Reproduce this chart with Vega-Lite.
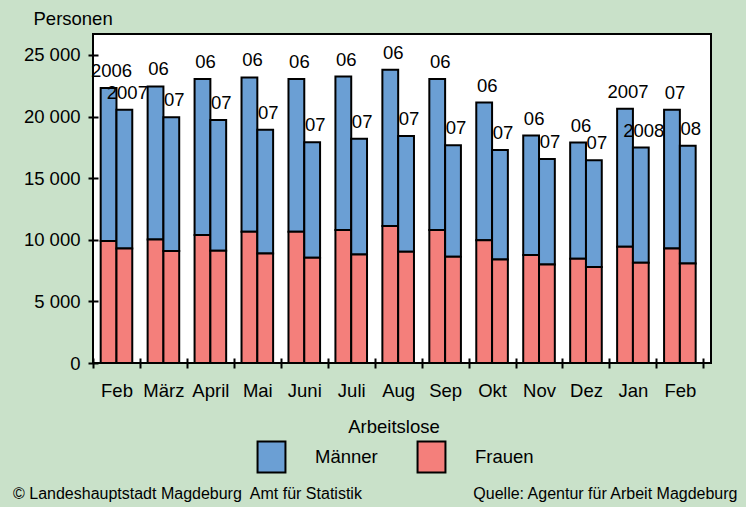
{
  "$schema": "https://vega.github.io/schema/vega-lite/v6.json",
  "width": 618,
  "height": 329,
  "autosize": {"type": "none"},
  "padding": {"left": 93, "top": 34, "right": 35, "bottom": 144},
  "background": "#c9e1c9",
  "config": {
    "view": {"fill": "white", "stroke": "black", "strokeWidth": 2},
    "font": "Liberation Sans",
    "axis": {"labelColor": "black", "titleColor": "black", "tickColor": "black"},
    "legend": {"labelColor": "black", "titleColor": "black"}
  },
  "title": {
    "text": "© Landeshauptstadt Magdeburg\u00a0 Amt für Statistik",
    "orient": "bottom",
    "anchor": "start",
    "frame": "group",
    "fontSize": 16,
    "fontWeight": "normal",
    "color": "black",
    "dx": -80,
    "dy": -15,
    "offset": 0
  },
  "data": {
    "values": [
      {"monat": "Feb 2006", "balken": 1, "g": "Männer", "wert": 12410, "label": "2006"},
      {"monat": "Feb 2006", "balken": 1, "g": "Frauen", "wert": 9900, "label": "2006"},
      {"monat": "Feb 2006", "balken": 2, "g": "Männer", "wert": 11250, "label": "2007"},
      {"monat": "Feb 2006", "balken": 2, "g": "Frauen", "wert": 9300, "label": "2007"},
      {"monat": "März 2006", "balken": 1, "g": "Männer", "wert": 12410, "label": "06"},
      {"monat": "März 2006", "balken": 1, "g": "Frauen", "wert": 10030, "label": "06"},
      {"monat": "März 2006", "balken": 2, "g": "Männer", "wert": 10870, "label": "07"},
      {"monat": "März 2006", "balken": 2, "g": "Frauen", "wert": 9080, "label": "07"},
      {"monat": "April 2006", "balken": 1, "g": "Männer", "wert": 12660, "label": "06"},
      {"monat": "April 2006", "balken": 1, "g": "Frauen", "wert": 10380, "label": "06"},
      {"monat": "April 2006", "balken": 2, "g": "Männer", "wert": 10630, "label": "07"},
      {"monat": "April 2006", "balken": 2, "g": "Frauen", "wert": 9100, "label": "07"},
      {"monat": "Mai 2006", "balken": 1, "g": "Männer", "wert": 12520, "label": "06"},
      {"monat": "Mai 2006", "balken": 1, "g": "Frauen", "wert": 10650, "label": "06"},
      {"monat": "Mai 2006", "balken": 2, "g": "Männer", "wert": 10030, "label": "07"},
      {"monat": "Mai 2006", "balken": 2, "g": "Frauen", "wert": 8890, "label": "07"},
      {"monat": "Juni 2006", "balken": 1, "g": "Männer", "wert": 12390, "label": "06"},
      {"monat": "Juni 2006", "balken": 1, "g": "Frauen", "wert": 10650, "label": "06"},
      {"monat": "Juni 2006", "balken": 2, "g": "Männer", "wert": 9380, "label": "07"},
      {"monat": "Juni 2006", "balken": 2, "g": "Frauen", "wert": 8540, "label": "07"},
      {"monat": "Juli 2006", "balken": 1, "g": "Männer", "wert": 12460, "label": "06"},
      {"monat": "Juli 2006", "balken": 1, "g": "Frauen", "wert": 10790, "label": "06"},
      {"monat": "Juli 2006", "balken": 2, "g": "Männer", "wert": 9380, "label": "07"},
      {"monat": "Juli 2006", "balken": 2, "g": "Frauen", "wert": 8810, "label": "07"},
      {"monat": "Aug 2006", "balken": 1, "g": "Männer", "wert": 12690, "label": "06"},
      {"monat": "Aug 2006", "balken": 1, "g": "Frauen", "wert": 11110, "label": "06"},
      {"monat": "Aug 2006", "balken": 2, "g": "Männer", "wert": 9400, "label": "07"},
      {"monat": "Aug 2006", "balken": 2, "g": "Frauen", "wert": 9030, "label": "07"},
      {"monat": "Sep 2006", "balken": 1, "g": "Männer", "wert": 12250, "label": "06"},
      {"monat": "Sep 2006", "balken": 1, "g": "Frauen", "wert": 10790, "label": "06"},
      {"monat": "Sep 2006", "balken": 2, "g": "Männer", "wert": 9050, "label": "07"},
      {"monat": "Sep 2006", "balken": 2, "g": "Frauen", "wert": 8620, "label": "07"},
      {"monat": "Okt 2006", "balken": 1, "g": "Männer", "wert": 11180, "label": "06"},
      {"monat": "Okt 2006", "balken": 1, "g": "Frauen", "wert": 9960, "label": "06"},
      {"monat": "Okt 2006", "balken": 2, "g": "Männer", "wert": 8890, "label": "07"},
      {"monat": "Okt 2006", "balken": 2, "g": "Frauen", "wert": 8400, "label": "07"},
      {"monat": "Nov 2006", "balken": 1, "g": "Männer", "wert": 9700, "label": "06"},
      {"monat": "Nov 2006", "balken": 1, "g": "Frauen", "wert": 8760, "label": "06"},
      {"monat": "Nov 2006", "balken": 2, "g": "Männer", "wert": 8560, "label": "07"},
      {"monat": "Nov 2006", "balken": 2, "g": "Frauen", "wert": 8000, "label": "07"},
      {"monat": "Dez 2006", "balken": 1, "g": "Männer", "wert": 9430, "label": "06"},
      {"monat": "Dez 2006", "balken": 1, "g": "Frauen", "wert": 8460, "label": "06"},
      {"monat": "Dez 2006", "balken": 2, "g": "Männer", "wert": 8650, "label": "07"},
      {"monat": "Dez 2006", "balken": 2, "g": "Frauen", "wert": 7800, "label": "07"},
      {"monat": "Jan 2007", "balken": 1, "g": "Männer", "wert": 11200, "label": "2007"},
      {"monat": "Jan 2007", "balken": 1, "g": "Frauen", "wert": 9430, "label": "2007"},
      {"monat": "Jan 2007", "balken": 2, "g": "Männer", "wert": 9350, "label": "2008"},
      {"monat": "Jan 2007", "balken": 2, "g": "Frauen", "wert": 8130, "label": "2008"},
      {"monat": "Feb 2007", "balken": 1, "g": "Männer", "wert": 11250, "label": "07"},
      {"monat": "Feb 2007", "balken": 1, "g": "Frauen", "wert": 9300, "label": "07"},
      {"monat": "Feb 2007", "balken": 2, "g": "Männer", "wert": 9560, "label": "08"},
      {"monat": "Feb 2007", "balken": 2, "g": "Frauen", "wert": 8080, "label": "08"}
    ]
  },
  "encoding": {
    "x": {
      "field": "monat",
      "type": "nominal",
      "sort": null,
      "scale": {"paddingInner": 0, "paddingOuter": 0.0815, "align": 0},
      "axis": {
        "title": "Quelle: Agentur für Arbeit Magdeburg",
        "titleFontSize": 16,
        "titleFontWeight": "normal",
        "titleAlign": "right",
        "titleBaseline": "middle",
        "titleX": 644,
        "titleY": 135,
        "labelExpr": "isString(datum.value) ? split(datum.value, ' ')[0] : ''",
        "labelAngle": 0,
        "labelFontSize": 18.5,
        "labelPadding": 13,
        "tickBand": "extent",
        "tickSize": 10,
        "tickWidth": 2,
        "offset": -5,
        "domain": false,
        "grid": false
      }
    },
    "xOffset": {
      "field": "balken",
      "type": "ordinal",
      "scale": {"paddingInner": 0, "paddingOuter": 0.486}
    }
  },
  "layer": [
    {
      "mark": {"type": "bar", "stroke": "black", "strokeWidth": 2, "opacity": 1},
      "encoding": {
        "y": {
          "field": "wert",
          "type": "quantitative",
          "stack": "zero",
          "scale": {"domain": [0, 26700], "nice": false},
          "axis": {
            "title": "Personen",
            "titleAngle": 0,
            "titleFontSize": 18.5,
            "titleFontWeight": "normal",
            "titleAlign": "left",
            "titleBaseline": "middle",
            "titleX": -65,
            "titleY": -16,
            "values": [0, 5000, 10000, 15000, 20000, 25000],
            "labelExpr": "replace(format(datum.value, ','), ',', ' ')",
            "labelFontSize": 18.5,
            "labelPadding": 8,
            "tickSize": 10,
            "tickWidth": 2,
            "offset": -5,
            "domain": false,
            "grid": false
          }
        },
        "color": {
          "field": "g",
          "type": "nominal",
          "scale": {"domain": ["Männer", "Frauen"], "range": ["#6b9fd4", "#f47f7b"]},
          "legend": {
            "title": "Arbeitslose",
            "orient": "none",
            "direction": "horizontal",
            "legendX": 162,
            "legendY": 384,
            "padding": 0,
            "titleFontSize": 18.5,
            "titleFontWeight": "normal",
            "titleAnchor": "middle",
            "titlePadding": 4,
            "labelFontSize": 18.5,
            "labelOffset": 27,
            "columnPadding": 35,
            "symbolType": "M-0.9,-1H0.9V1H-0.9Z",
            "symbolSize": 961,
            "symbolStrokeColor": "black",
            "symbolStrokeWidth": 2,
            "symbolOpacity": 1
          }
        },
        "order": {"field": "g", "sort": "ascending"}
      }
    },
    {
      "transform": [
        {"joinaggregate": [{"op": "sum", "field": "wert", "as": "gesamt"}], "groupby": ["monat", "balken"]},
        {"filter": "datum.g === 'Männer'"}
      ],
      "mark": {"type": "text", "baseline": "middle", "dy": -17, "dx": 3, "fontSize": 18.5, "color": "black"},
      "encoding": {
        "y": {"field": "gesamt", "type": "quantitative", "stack": null},
        "text": {"field": "label", "type": "nominal"}
      }
    }
  ]
}
